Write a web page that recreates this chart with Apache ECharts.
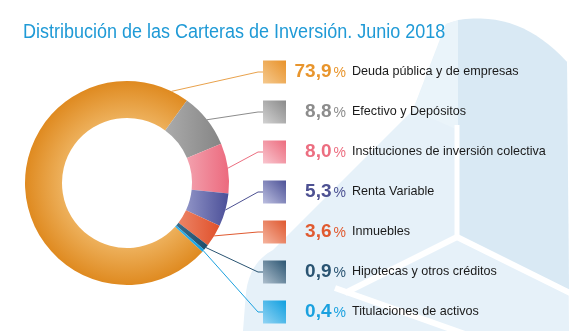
<!DOCTYPE html>
<html><head><meta charset="utf-8">
<script src="https://cdn.jsdelivr.net/npm/echarts@6/dist/echarts.min.js"></script>
<style>html,body{margin:0;padding:0;background:#fff}#c{width:569px;height:331px}</style>
</head><body><div id="c"></div>
<script>
const titleText = 'Distribución de las Carteras de Inversión. Junio 2018';
const categories = ['Deuda pública y de empresas', 'Efectivo y Depósitos', 'Instituciones de inversión colectiva', 'Renta Variable', 'Inmuebles', 'Hipotecas y otros créditos', 'Titulaciones de activos'];
const values = [73.9, 8.8, 8.0, 5.3, 3.6, 0.9, 0.4];
const valueLabels = ['73,9', '8,8', '8,0', '5,3', '3,6', '0,9', '0,4'];

const sliceLight = ['#eeb25e', '#ababab', '#f3a0ad', '#8f93c6', '#ec8466', '#3b6d8b', '#35b0e6'];
const sliceDark  = ['#df8a20', '#858585', '#ec6a7e', '#4b4f98', '#e0512b', '#1f4c6a', '#159fdf'];
const squareLight = ['#f5c98e', '#d2d2d2', '#f9c6cf', '#bcbfe0', '#f5b49e', '#aebfcd', '#92d4f4'];
const squareDark  = ['#e8922a', '#8a8a8a', '#ec6c7e', '#4d5297', '#df582f', '#2b5572', '#109fdf'];
const textColors  = ['#e8952d', '#8c8c8c', '#ec6e80', '#4d5192', '#e05a30', '#2a5472', '#1ba1df'];
const lineColors  = ['#e9a24c', '#8c8c8c', '#ec6e80', '#4d5192', '#e05a30', '#2a5472', '#1ba1df'];

const FONT = '"Liberation Sans", Arial, sans-serif';
const ctx = document.createElement('canvas').getContext('2d');
ctx.font = 'bold 19px ' + FONT;
const widths = valueLabels.map(s => ctx.measureText(s).width);
const maxW = Math.max.apply(null, widths);

const LABEL_X = 263, LABEL_Y0 = 72, LABEL_STEP = 40;

const data = categories.map((name, i) => {
  const fill = i === 0
    ? { type: 'radial', x: 127, y: 183, r: 102, global: true,
        colorStops: [{ offset: 0.62, color: sliceLight[0] }, { offset: 1, color: sliceDark[0] }] }
    : { type: 'linear', x: 0, y: 0, x2: 1, y2: 0,
        colorStops: [{ offset: 0, color: sliceLight[i] }, { offset: 1, color: sliceDark[i] }] };
  return {
    name: name,
    value: values[i],
    itemStyle: { color: fill },
    labelLine: { lineStyle: { color: lineColors[i], width: 1 } },
    label: {
      formatter: () => '{sq|}{g|}{v|' + valueLabels[i] + '}{p|%}{n|' + name + '}',
      rich: {
        sq: { width: 23, height: 23,
              backgroundColor: { type: 'linear', x: 0, y: 1, x2: 1, y2: 0,
                colorStops: [{ offset: 0, color: squareLight[i] }, { offset: 1, color: squareDark[i] }] } },
        g: { width: 8.5 + maxW - widths[i], height: 10 },
        v: { fontSize: 19, fontWeight: 'bold', color: textColors[i], fontFamily: FONT },
        p: { fontSize: 14, color: textColors[i], fontFamily: FONT, padding: [2, 0, 0, 2] },
        n: { fontSize: 12.6, color: '#1a1a1a', fontFamily: FONT, padding: [0, 0, 0, 6] }
      }
    }
  };
});

// decorative background helper (quadratic curve sampling)
function quad(p0, p1, p2, n) {
  const out = [];
  for (let k = 0; k <= n; k++) {
    const t = k / n, a = (1 - t) * (1 - t), b = 2 * (1 - t) * t, c = t * t;
    out.push([a * p0[0] + b * p1[0] + c * p2[0], a * p0[1] + b * p1[1] + c * p2[1]]);
  }
  return out;
}
const bgLight = '#e6f1f9', bgDark = '#d9e9f4', bgLighter = '#eaf4fa';
const envelope = [[243, 331]].concat(quad([246, 292], [250, 262], [273, 250], 8))
  .concat([[413, 110]]).concat(quad([446, 24], [500, 4], [567, 62], 16)).concat([[569, 331]]);
const darkPart = quad([458, 20], [520, 10], [567, 62], 16).concat([[569, 292], [458, 237]]);

// label line anchors, taken from the library's own pie layout
let sliceLayouts = null;
function labelLayoutFn(p) {
  const x = LABEL_X, y = LABEL_Y0 + p.dataIndex * LABEL_STEP;
  const out = { x: x, y: y, align: 'left', verticalAlign: 'middle' };
  if (sliceLayouts && sliceLayouts[p.dataIndex]) {
    const L = sliceLayouts[p.dataIndex];
    const span = Math.abs(L.endAngle - L.startAngle);
    const a = span > Math.PI / 2 ? L.endAngle - 10 * Math.PI / 180 : (L.startAngle + L.endAngle) / 2;
    out.labelLinePoints = [[L.cx + L.r * Math.cos(a), L.cy + L.r * Math.sin(a)], [x - 5, y], [x, y]];
  }
  return out;
}

const chart = echarts.init(document.getElementById('c'), null, { renderer: 'canvas' });
const option = {
  animation: false,
  backgroundColor: '#ffffff',
  graphic: [
    { type: 'polygon', silent: true, z: 0, shape: { points: envelope }, style: { fill: bgLight } },
    { type: 'polygon', silent: true, z: 0, shape: { points: [[446, 24], [458, 20], [458, 130], [413, 110]] }, style: { fill: bgLighter } },
    { type: 'polygon', silent: true, z: 0, shape: { points: darkPart }, style: { fill: bgDark } },
    { type: 'line', silent: true, z: 0, shape: { x1: 457, y1: 125, x2: 457, y2: 238 }, style: { stroke: '#ffffff', lineWidth: 5 } },
    { type: 'line', silent: true, z: 0, shape: { x1: 457, y1: 237, x2: 572, y2: 294 }, style: { stroke: '#ffffff', lineWidth: 6 } },
    { type: 'line', silent: true, z: 0, shape: { x1: 457, y1: 237, x2: 345, y2: 293 }, style: { stroke: '#ffffff', lineWidth: 6 } },
    { type: 'line', silent: true, z: 0, shape: { x1: 335, y1: 288, x2: 572, y2: 372 }, style: { stroke: '#ffffff', lineWidth: 6 } },
    { type: 'text', silent: true, z: 10, x: 23, y: 32, scaleX: 0.9,
      style: { text: titleText, fill: '#1f9ad6', font: '20px ' + FONT, verticalAlign: 'middle' } }
  ],
  series: [{
    type: 'pie',
    center: [127, 183],
    radius: [65, 102],
    startAngle: 317.7,
    clockwise: true,
    silent: true,
    avoidLabelOverlap: false,
    z: 5,
    label: { show: true, position: 'outside', fontFamily: FONT },
    labelLine: { show: true, length: 10, length2: 5, smooth: false, minTurnAngle: 0, lineStyle: { width: 1 } },
    labelLayout: labelLayoutFn,
    data: data
  }]
};
chart.setOption(option);
try {
  const sData = chart.getModel().getSeriesByIndex(0).getData();
  sliceLayouts = categories.map((_, i) => sData.getItemLayout(i));
  chart.setOption({ series: [{ labelLayout: labelLayoutFn }] });
  chart.resize();
} catch (e) { console.log(e); }
</script>
</body></html>
